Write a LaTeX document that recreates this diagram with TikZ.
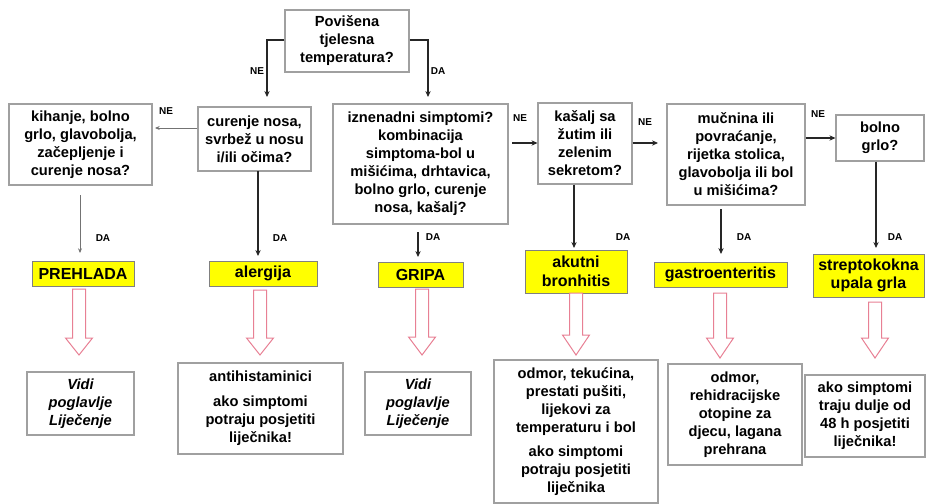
\documentclass[tikz,border=0pt]{standalone}
\usepackage{fontspec}
\setmainfont{Liberation Sans}
\usetikzlibrary{arrows.meta}
\definecolor{pinkline}{RGB}{232,128,148}
\definecolor{boxgray}{RGB}{160,160,160}
\definecolor{yel}{RGB}{255,255,0}
\begin{document}
\begin{tikzpicture}[x=0.75pt,y=-0.75pt,
  every node/.style={font=\fontsize{11}{13.5}\selectfont\bfseries, align=center, inner sep=0pt},
  box/.style={draw=boxgray, line width=0.8pt, fill=white},
  ybox/.style={draw=black!50, line width=0.6pt, fill=yel, font=\fontsize{12}{14}\selectfont\bfseries},
  lab/.style={font=\fontsize{7.5}{9}\selectfont\bfseries},
  arr/.style={line width=1.1pt, draw=black!85, -{Stealth[length=4.5pt,width=4pt]}},
  thinarr/.style={line width=0.6pt, draw=black!55, -{Stealth[length=3.5pt,width=3pt]}},
  hollow/.style={draw=pinkline, line width=0.75pt, fill=white, line join=miter}
]
\useasboundingbox (0,0) rectangle (927,503);
\fill[white] (0,0) rectangle (927,503);

% question boxes
\node[box, minimum width=93pt, minimum height=46.5pt] (top) at (347,41) {Povišena\\tjelesna\\temperatura?};
\node[box, minimum width=107.25pt, minimum height=60.75pt] (kih) at (80.5,144.5) {kihanje, bolno\\grlo, glavobolja,\\začepljenje i\\curenje nosa?};
\node[box, minimum width=84.75pt, minimum height=48pt] (cur) at (254.5,139) {curenje nosa,\\svrbež u nosu\\i/ili očima?};
\node[box, minimum width=131.25pt, minimum height=90pt] (izn) at (420.5,164) {iznenadni simptomi?\\kombinacija\\simptoma-bol u\\mišićima, drhtavica,\\bolno grlo, curenje\\nosa, kašalj?};
\node[box, minimum width=70.5pt, minimum height=60.75pt] (kas) at (585,143.5) {kašalj sa\\žutim ili\\zelenim\\sekretom?};
\node[box, minimum width=103.5pt, minimum height=75.75pt] (muc) at (736,154.5) {mučnina ili\\povraćanje,\\rijetka stolica,\\glavobolja ili bol\\u mišićima?};
\node[box, minimum width=66pt, minimum height=34.5pt] (bol) at (880,138) {bolno\\grlo?};

% diagnosis boxes
\node[ybox, minimum width=76.5pt, minimum height=18.75pt] (preh) at (83,273.5) {PREHLADA};
\node[ybox, minimum width=81pt, minimum height=18.75pt] (aler) at (263,273.5) {alergija};
\node[ybox, minimum width=63.75pt, minimum height=18.75pt] (grip) at (420.5,274.5) {GRIPA};
\node[ybox, minimum width=76.5pt, minimum height=32.25pt] (akut) at (576,271.5) {akutni\\bronhitis};
\node[ybox, minimum width=99.75pt, minimum height=18.75pt] (gast) at (720.5,274.5) {gastroenteritis};
\node[ybox, minimum width=83.25pt, minimum height=32.25pt] (strep) at (868.5,275.5) {streptokokna\\upala grla};

% result boxes
\node[box, minimum width=80.25pt, minimum height=47.25pt] (r1) at (80.5,403.5) {\itshape Vidi\\\itshape poglavlje\\\itshape Liječenje};
\node[box, minimum width=123.75pt, minimum height=68.25pt] (r2) at (260.5,408.5) {antihistaminici\\[5pt]ako simptomi\\potraju posjetiti\\liječnika!};
\node[box, minimum width=79.5pt, minimum height=47.25pt] (r3) at (418,403.5) {\itshape Vidi\\\itshape poglavlje\\\itshape Liječenje};
\node[box, minimum width=123pt, minimum height=107.25pt] (r4) at (576,431.5) {odmor, tekućina,\\prestati pušiti,\\lijekovi za\\temperaturu i bol\\[5pt]ako simptomi\\potraju posjetiti\\liječnika};
\node[box, minimum width=100.5pt, minimum height=75.75pt] (r5) at (735,414.5) {odmor,\\rehidracijske\\otopine za\\djecu, lagana\\prehrana};
\node[box, minimum width=90pt, minimum height=61.5pt] (r6) at (865,416) {ako simptomi\\traju dulje od\\48 h posjetiti\\liječnika!};

% connector end points
\coordinate (e1) at (267,97);
\coordinate (e2) at (428,97);
\coordinate (s3) at (80,195);
\coordinate (e3) at (80,253);
\coordinate (s4) at (258,171);
\coordinate (e4) at (258,256);
\coordinate (s5) at (418,232);
\coordinate (e5) at (418,257);
\coordinate (e6) at (574,248);
\coordinate (s7) at (721,209);
\coordinate (e7) at (721,254);
\coordinate (e8) at (876,248);

\draw[arr] (top.west |- 0,40) -| (e1);
\draw[arr] (top.east |- 0,40) -| (e2);
\draw[thinarr] (cur.west |- 0,128) -- (155,128);
\draw[thinarr] (s3) -- (e3);
\draw[arr] (s4) -- (e4);
\draw[arr] (s5) -- (e5);
\draw[arr] (512,143) -- (kas.west |- 0,143);
\draw[arr] (kas.south -| 574,0) -- (e6);
\draw[arr] (kas.east |- 0,143) -- (658,143);
\draw[arr] (s7) -- (e7);
\draw[arr] (muc.east |- 0,138) -- (bol.west |- 0,138);
\draw[arr] (bol.south -| 876,0) -- (e8);

% labels
\node[lab] at (257,71) {NE};
\node[lab] at (438,71) {DA};
\node[lab] at (166,111) {NE};
\node[lab] at (103,238) {DA};
\node[lab] at (280,238) {DA};
\node[lab] at (433,237) {DA};
\node[lab] at (520,118) {NE};
\node[lab] at (645,122) {NE};
\node[lab] at (818,114) {NE};
\node[lab] at (623,237) {DA};
\node[lab] at (744,237) {DA};
\node[lab] at (895,237) {DA};

% hollow pink arrows
\foreach \cx/\ty/\hy/\tip in {79/289/338/355, 260/290/338/355, 422/289/337/355, 576/293/335/355, 720/293/338/358, 875/302/338/358}{
  \draw[hollow] (\cx-6.5,\ty) -- (\cx+6.5,\ty) -- (\cx+6.5,\hy) -- (\cx+13.5,\hy) -- (\cx,\tip) -- (\cx-13.5,\hy) -- (\cx-6.5,\hy) -- cycle;
}
\end{tikzpicture}
\end{document}
